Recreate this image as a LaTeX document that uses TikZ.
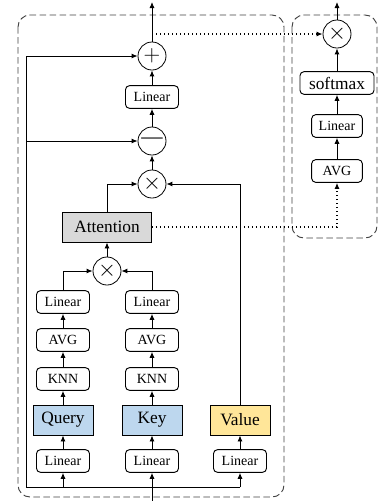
\documentclass[tikz,border=0pt]{standalone}
\usepackage{fontspec}
\setmainfont{Liberation Serif}
\usetikzlibrary{arrows.meta}
\begin{document}
\begin{tikzpicture}[x=0.75pt,y=-0.75pt,
  sbox/.style={draw, rounded corners=3pt, line width=0.7pt, minimum width=39.75pt, minimum height=17pt, inner sep=0pt, font=\fontsize{10.5}{12}\selectfont, fill=white},
  bbox/.style={draw, line width=0.7pt, minimum width=45pt, minimum height=22.5pt, inner sep=0pt, font=\fontsize{13}{15}\selectfont},
  op/.style={draw, circle, minimum size=21pt, inner sep=0pt, line width=0.6pt, font=\fontsize{16}{18}\selectfont},
  arr/.style={-{Latex[length=4.5pt,width=3.8pt]}, line width=0.7pt},
  dots/.style={line width=1pt, dash pattern=on 0.9pt off 2.1pt},
  dbox/.style={draw=black!75, line width=0.7pt, dash pattern=on 5pt off 2.5pt, rounded corners=9pt}]
\useasboundingbox (0,0) rectangle (378,501);
% dashed frames
\draw[dbox] (18,15) rectangle (284,497);
\draw[dbox] (292,15) rectangle (377,238);
% main column
\node[op] (plus) at (152,56) {$+$};
\node[sbox] (lin1) at (152,97) {Linear};
\node[op] (minus) at (152,141) {—};
\node[op] (mulA) at (152,184) {$\times$};
\node[bbox, fill=black!15, minimum width=66.75pt] (att) at (107,227) {Attention};
\node[op] (mulB) at (107,271) {$\times$};
\node[sbox] (linQ) at (63,302) {Linear};
\node[sbox] (linK) at (152,302) {Linear};
\node[sbox] (avgQ) at (63,340) {AVG};
\node[sbox] (avgK) at (152,340) {AVG};
\node[sbox] (knnQ) at (63,379) {KNN};
\node[sbox] (knnK) at (152,379) {KNN};
\node[bbox, fill={rgb,255:red,189;green,215;blue,238}] (query) at (63,420) {Query};
\node[bbox, fill={rgb,255:red,189;green,215;blue,238}] (key) at (152,420) {Key};
\node[bbox, fill={rgb,255:red,255;green,230;blue,153}] (value) at (240,420) {Value};
\node[sbox] (linQ2) at (63,461) {Linear};
\node[sbox] (linK2) at (152,461) {Linear};
\node[sbox] (linV2) at (240,461) {Linear};
% right column
\node[op] (rmul) at (337,34) {$\times$};
\node[sbox, minimum width=55.5pt, font=\fontsize{13}{15}\selectfont] (soft) at (337,83) {softmax};
\node[sbox, minimum width=38pt] (rlin) at (337,126) {Linear};
\node[sbox, minimum width=38pt] (ravg) at (337,171) {AVG};
% coordinates
\coordinate (out1) at (152,2);
\coordinate (out2) at (337,2);
\coordinate (tap) at (152,34);
\coordinate (in) at (152,501);
\coordinate (bl) at (26,487);
\coordinate (br) at (240,487);
\coordinate (bq) at (63,487);
\coordinate (mid) at (26,141);
% connectors
\draw[arr] (plus) -- (out1);
\draw[arr] (lin1) -- (plus);
\draw[arr] (minus) -- (lin1);
\draw[arr] (mulA) -- (minus);
\draw[arr] (att.north) |- (mulA.west);
\draw[arr] (value.north) |- (mulA.east);
\draw[arr] (mulB) -- (att);
\draw[arr] (linQ.north) |- (mulB.west);
\draw[arr] (linK.north) |- (mulB.east);
\draw[arr] (avgQ) -- (linQ);
\draw[arr] (avgK) -- (linK);
\draw[arr] (knnQ) -- (avgQ);
\draw[arr] (knnK) -- (avgK);
\draw[arr] (query) -- (knnQ);
\draw[arr] (key) -- (knnK);
\draw[arr] (linQ2) -- (query);
\draw[arr] (linK2) -- (key);
\draw[arr] (linV2) -- (value);
\draw[arr] (in) -- (linK2);
\draw[line width=0.7pt] (br) -- (bl);
\draw[arr] (bl) |- (plus.west);
\draw[arr] (mid) -- (minus.west);
\draw[arr] (bq) -- (linQ2);
\draw[arr] (br) -- (linV2);
\draw[arr] (rmul) -- (out2);
\draw[arr] (soft) -- (rmul);
\draw[arr] (rlin) -- (soft);
\draw[arr] (ravg) -- (rlin);
\draw[dots, -{Latex[length=4.5pt,width=3.8pt]}] (tap) -- (rmul.west);
\draw[dots, -{Latex[length=4.5pt,width=3.8pt]}] (att.east) -| (ravg.south);
\end{tikzpicture}
\end{document}
